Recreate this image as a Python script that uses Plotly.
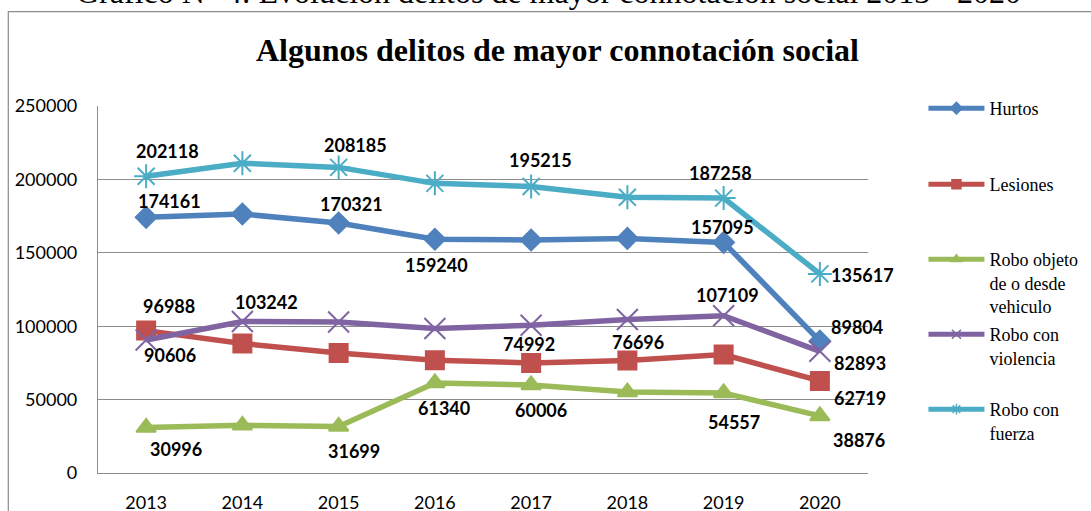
import plotly.graph_objects as go

# ---------------- data ----------------
years = ["2013", "2014", "2015", "2016", "2017", "2018", "2019", "2020"]
hurtos = [174161, 176400, 170321, 159240, 158700, 159800, 157095, 89804]
lesiones = [96988, 88200, 81800, 76800, 74992, 76696, 80700, 62719]
robo_objeto = [30996, 32500, 31699, 61340, 60006, 55100, 54557, 38876]
robo_violencia = [90606, 103242, 102900, 98400, 100700, 104600, 107109, 82893]
robo_fuerza = [202118, 211000, 208185, 197300, 195215, 187800, 187258, 135617]

series_names = ["Hurtos", "Lesiones", "Robo objeto<br>de o desde<br>vehiculo",
                "Robo con<br>violencia", "Robo con<br>fuerza"]
y_ticks = [0, 50000, 100000, 150000, 200000, 250000]

# which points carry a value label (index of year)
labelled = {
    "Hurtos": [0, 2, 3, 6, 7],
    "Lesiones": [0, 4, 5, 7],
    "Objeto": [0, 2, 3, 4, 6, 7],
    "Violencia": [0, 1, 6, 7],
    "Fuerza": [0, 2, 4, 6, 7],
}

# ---------------- styles ----------------
# label offsets in pixels (dx right, dy down) per labelled point
label_offsets = {
    "Hurtos": [(23, -16), (13, -19), (2, 26), (-1, -15), (37, -14)],
    "Lesiones": [(23, -25), (-2, -19), (11, -18), (40, 17)],
    "Objeto": [(30, 21), (15, 25), (9, 25), (10, 25), (10, 29), (39, 24)],
    "Violencia": [(24, 15), (24, -19), (4, -21), (40, 12)],
    "Fuerza": [(21, -25), (17, -22), (9, -26), (-3, -25), (43, 1)],
}
colors = ["#4F81BD", "#C0504D", "#9BBB59", "#8064A2", "#4BACC6"]
symbols = ["diamond", "square", "triangle-up", "x-thin-open", "asterisk-open"]
msizes = [16, 18, 17, 21, 20]
keys = ["Hurtos", "Lesiones", "Objeto", "Violencia", "Fuerza"]
all_series = [hurtos, lesiones, robo_objeto, robo_violencia, robo_fuerza]

SANS = "Lato"
SERIF = "Liberation Serif, Times New Roman, serif"
GRID = "#8c8c8c"

fig = go.Figure()

# main traces
for vals, col, sym, ms in zip(all_series, colors, symbols, msizes):
    fig.add_trace(go.Scatter(
        x=years, y=vals, mode="lines+markers", showlegend=False,
        line=dict(color=col, width=5.5),
        marker=dict(symbol=sym, size=ms, color=col,
                    line=dict(color=col, width=2)),
        hoverinfo="skip"))

# legend traces (one legend per entry so spacing matches)
legend_ids = ["legend", "legend2", "legend3", "legend4", "legend5"]
for name, col, sym, lid in zip(series_names, colors, symbols, legend_ids):
    fig.add_trace(go.Scatter(
        x=[None], y=[None], mode="lines+markers", name=name, legend=lid,
        line=dict(color=col, width=5),
        marker=dict(symbol=sym, size=9, color=col, line=dict(color=col, width=1.5))))

# value labels
annotations = []
for key, vals in zip(keys, all_series):
    for idx, (dx, dy) in zip(labelled[key], label_offsets[key]):
        annotations.append(dict(
            x=idx, y=vals[idx], xref="x", yref="y",
            text=f"<b>{vals[idx]}</b>", showarrow=False,
            xanchor="center", yanchor="middle",
            xshift=dx, yshift=-dy,
            font=dict(family=SANS, size=18, color="#000000")))

# title & caption
annotations.append(dict(
    x=0.597, y=1.1526, xref="paper", yref="paper", showarrow=False,
    xanchor="center", yanchor="middle",
    text="<b>Algunos delitos de mayor connotación social</b>",
    font=dict(family=SERIF, size=32, color="#000000")))
annotations.append(dict(
    x=0.585, y=1.255, xref="paper", yref="paper", showarrow=False,
    xanchor="center", yanchor="bottom",
    text="Gráfico N° 4: Evolución delitos de mayor connotación social 2013 - 2020",
    font=dict(family=SERIF, size=32, color="#000000")))

fig.update_layout(
    width=1091, height=511,
    margin=dict(l=98, r=223, t=106, b=38, autoexpand=False),
    paper_bgcolor="white", plot_bgcolor="white",
    font=dict(family=SERIF, size=18, color="#000000"),
    annotations=annotations,
    shapes=[dict(type="rect", xref="paper", yref="paper",
                 x0=-0.1165, x1=1.295, y0=-0.3, y1=1.257,
                 line=dict(color="#8c8c8c", width=1.2), layer="below")],
    xaxis=dict(type="category", range=[-0.5, 7.5], showgrid=False,
               showline=True, linecolor=GRID, linewidth=1.2,
               ticks="", ticklabelstandoff=13,
               tickfont=dict(family=SANS, size=18, color="#000000")),
    yaxis=dict(range=[0, 250000], tickvals=y_ticks,
               ticktext=[str(v) for v in y_ticks],
               showgrid=True, gridcolor=GRID, gridwidth=1.2,
               showline=True, linecolor=GRID, linewidth=1.2,
               zeroline=False, ticks="", ticklabelstandoff=16,
               tickfont=dict(family=SANS, size=18, color="#000000")),
)

legend_y_pix = [109, 185, 260, 335, 410]
for lid, yc in zip(legend_ids, legend_y_pix):
    fig.update_layout({lid: dict(
        x=1.072, xanchor="left",
        y=(473 - (yc - 19)) / 367, yanchor="top",
        bgcolor="rgba(0,0,0,0)", borderwidth=0, valign="top",
        itemwidth=56, tracegroupgap=0,
        font=dict(family=SERIF, size=18, color="#000000"))})

fig.write_html("out.html", config={"displayModeBar": False},
               post_script="document.body.style.margin='0';")
